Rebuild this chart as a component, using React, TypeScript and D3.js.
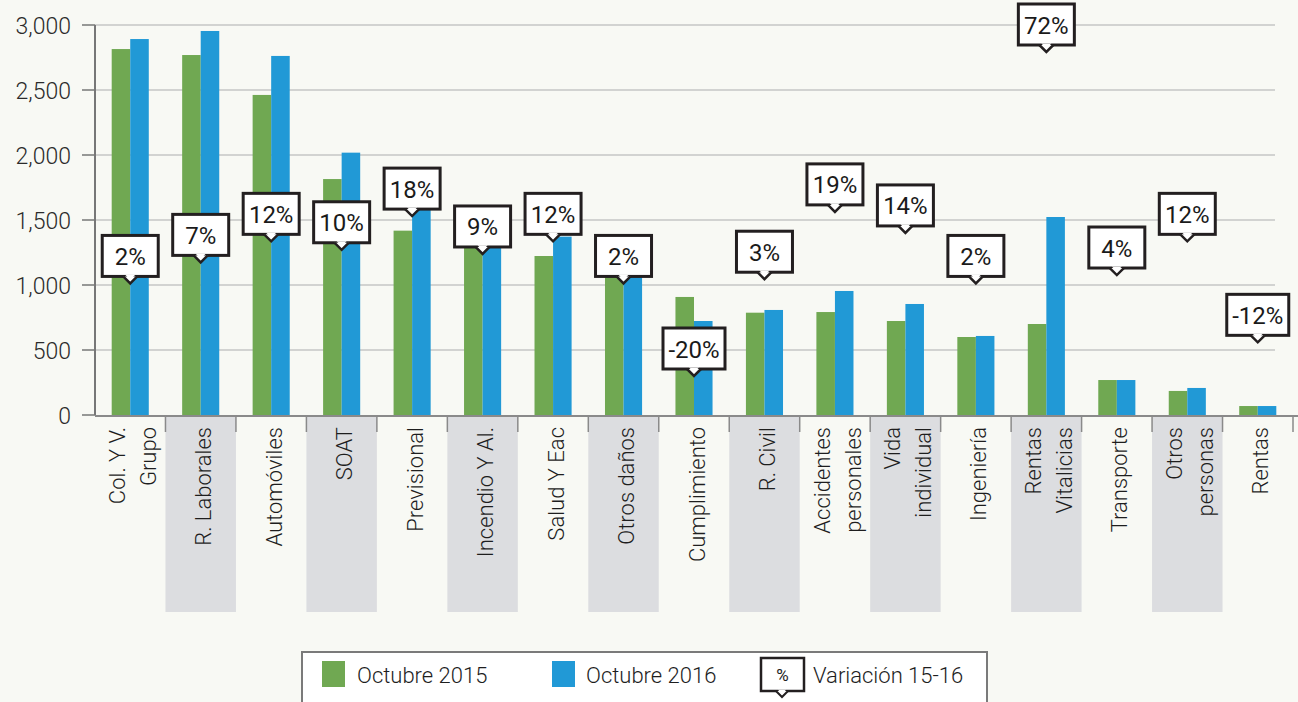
import React from "react";
import * as d3 from "d3";

// categories (line breaks as in the original axis)
const categories = [
  "Col. Y V.\nGrupo",
  "R. Laborales",
  "Automóviles",
  "SOAT",
  "Previsional",
  "Incendio Y Al.",
  "Salud Y Eac",
  "Otros daños",
  "Cumplimiento",
  "R. Civil",
  "Accidentes\npersonales",
  "Vida\nindividual",
  "Ingeniería",
  "Rentas\nVitalicias",
  "Transporte",
  "Otros\npersonas",
  "Rentas",
];

const oct2015 = [2815, 2769, 2462, 1815, 1418, 1300, 1223, 1246, 908, 787, 792, 723, 600, 700, 269, 185, 69];
const oct2016 = [2892, 2954, 2762, 2018, 1673, 1417, 1372, 1277, 723, 808, 954, 854, 608, 1523, 269, 208, 69];
const variation = [2, 7, 12, 10, 18, 9, 12, 2, -20, 3, 19, 14, 2, 72, 4, 12, -12];

const yTicks = [0, 500, 1000, 1500, 2000, 2500, 3000];
const seriesNames = ["Octubre 2015", "Octubre 2016"];

const GREEN = "#70a852";
const BLUE = "#2199d6";
const BG = "#f8f9f4";
const FONT = "Roboto, 'DejaVu Sans Condensed', sans-serif";
const FW = 300;

const App = () => {
  const W = 1298,
    H = 702;

  // scales
  const x = d3.scaleBand().domain(categories).range([95, 1293]);
  const xSub = d3
    .scaleBand()
    .domain(seriesNames)
    .range([0, x.bandwidth()])
    .paddingOuter(0.9);
  const y = d3.scaleLinear().domain([0, 3000]).range([415, 25]);
  // hidden secondary axis for the % callouts (clamped at the top)
  const yVar = d3.scaleLinear().domain([-20, 57]).range([377, 53]).clamp(true);

  const fmt = d3.format(",");

  return (
    <svg
      width={W}
      height={H}
      style={{ position: "absolute", left: 0, top: 0, background: BG }}
      fontFamily={FONT}
      fontWeight={FW}
    >
      <rect width={W} height={H} fill={BG} />

      {/* shaded category cells under the axis */}
      {categories.map((c, i) =>
        i % 2 === 1 ? (
          <rect
            key={"sh" + i}
            x={x(c)}
            y={417}
            width={x.bandwidth()}
            height={195}
            fill="#dcdde0"
          />
        ) : null
      )}

      {/* gridlines */}
      {yTicks.slice(1).map((t) => (
        <line
          key={"g" + t}
          x1={95}
          x2={1275}
          y1={y(t)}
          y2={y(t)}
          stroke="#c6c6c6"
          strokeWidth={1.5}
        />
      ))}

      {/* y axis */}
      <line x1={95} x2={95} y1={y(3000)} y2={y(0)} stroke="#777" strokeWidth={2} />
      {yTicks.map((t) => (
        <g key={"t" + t}>
          <line x1={82} x2={95} y1={y(t)} y2={y(t)} stroke="#777" strokeWidth={1.5} />
          <text
            x={71}
            y={y(t) + 1}
            textAnchor="end"
            dominantBaseline="central"
            fontSize={23}
            fill="#2b2b2b"
          >
            {fmt(t)}
          </text>
        </g>
      ))}

      {/* bars */}
      {categories.map((c, i) => (
        <g key={"b" + i} transform={`translate(${x(c)},0)`}>
          <rect
            x={xSub(seriesNames[0])}
            y={y(oct2015[i])}
            width={xSub.bandwidth()}
            height={y(0) - y(oct2015[i])}
            fill={GREEN}
          />
          <rect
            x={xSub(seriesNames[1])}
            y={y(oct2016[i])}
            width={xSub.bandwidth()}
            height={y(0) - y(oct2016[i])}
            fill={BLUE}
          />
        </g>
      ))}

      {/* x axis baseline + category ticks */}
      <line x1={95} x2={W} y1={y(0) + 1} y2={y(0) + 1} stroke="#8a8a8a" strokeWidth={2} />
      {categories.map((c, i) => (
        <line
          key={"xt" + i}
          x1={(x(c) as number) + x.bandwidth()}
          x2={(x(c) as number) + x.bandwidth()}
          y1={y(0)}
          y2={y(0) + 17}
          stroke="#8a8a8a"
          strokeWidth={1.5}
        />
      ))}

      {/* category labels */}
      {categories.map((c, i) => {
        const lines = c.split("\n");
        const cx = (x(c) as number) + x.bandwidth() / 2;
        return lines.map((ln, j) => {
          const lx = cx + 3 + (j - (lines.length - 1) / 2) * 31;
          return (
            <text
              key={"cl" + i + "_" + j}
              transform={`translate(${lx},427) rotate(-90)`}
              textAnchor="end"
              dominantBaseline="central"
              fontSize={22}
              fill="#1e1e1e"
            >
              {ln}
            </text>
          );
        });
      })}

      {/* % callouts */}
      {categories.map((c, i) => {
        const label = `${variation[i]}%`;
        const cx = (x(c) as number) + x.bandwidth() / 2;
        const tip = yVar(variation[i]);
        const bottom = tip - 8;
        const bh = 41;
        const bw = label.length >= 4 ? 62 : 56;
        return (
          <g key={"v" + i}>
            <rect
              x={cx - bw / 2}
              y={bottom - bh}
              width={bw}
              height={bh}
              fill="#fff"
              stroke="#231f20"
              strokeWidth={3}
            />
            <path
              d={`M${cx - 7},${bottom} L${cx},${bottom + 7} L${cx + 7},${bottom}`}
              fill="#fff"
              stroke="#231f20"
              strokeWidth={2.5}
            />
            <path
              d={`M${cx - 5},${bottom - 1.6} L${cx + 5},${bottom - 1.6} L${cx},${bottom + 3.5} Z`}
              fill="#fff"
            />
            <text
              x={cx}
              y={bottom - bh / 2 + 1}
              textAnchor="middle"
              dominantBaseline="central"
              fontSize={24}
              fontWeight={400}
              fill="#1a1a1a"
            >
              {label}
            </text>
          </g>
        );
      })}

      {/* legend */}
      <g>
        <rect x={302} y={652} width={685} height={60} fill="#fff" stroke="#7a7a7a" strokeWidth={2} />
        <rect x={322} y={661} width={23} height={26} fill={GREEN} />
        <text x={357} y={675} dominantBaseline="central" fontSize={22} fill="#1e1e1e">
          {seriesNames[0]}
        </text>
        <rect x={552} y={661} width={23} height={26} fill={BLUE} />
        <text x={586} y={675} dominantBaseline="central" fontSize={22} fill="#1e1e1e">
          {seriesNames[1]}
        </text>
        <rect x={761} y={658} width={43} height={33} fill="#fff" stroke="#231f20" strokeWidth={2.5} />
        <path d="M776,691 L782,697 L788,691" fill="#fff" stroke="#231f20" strokeWidth={2} />
        <path d="M778,689.8 L786,689.8 L782,694 Z" fill="#fff" />
        <text x={782.5} y={675} textAnchor="middle" dominantBaseline="central" fontSize={17} fontWeight={400} fill="#1e1e1e">
          %
        </text>
        <text x={813} y={675} dominantBaseline="central" fontSize={22} fill="#1e1e1e">
          Variación 15-16
        </text>
      </g>
    </svg>
  );
};

export default App;
